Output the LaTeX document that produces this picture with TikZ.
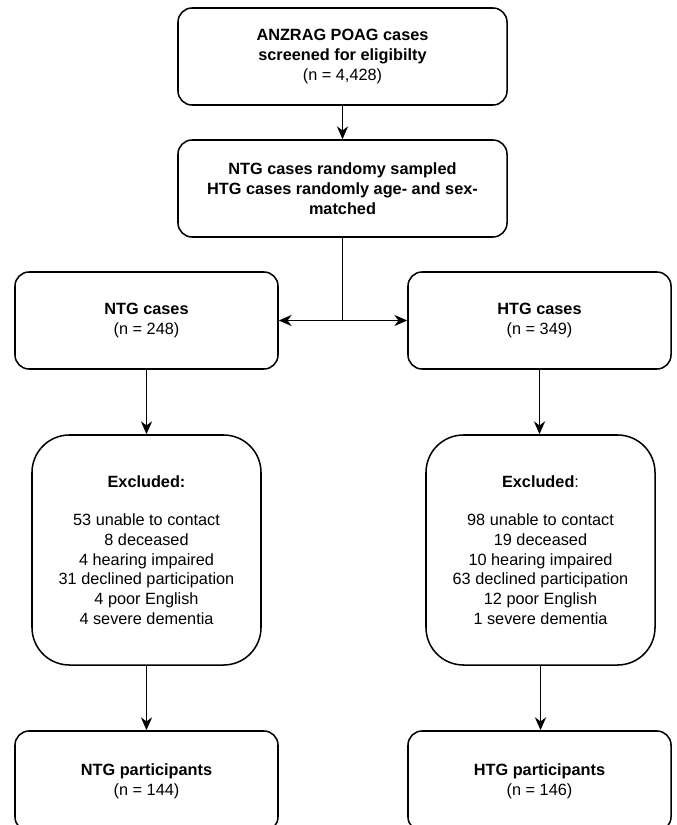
\documentclass[tikz,border=0pt]{standalone}
\usepackage{fontspec}
\setmainfont{Liberation Sans}
\usetikzlibrary{arrows.meta}

\begin{document}
\begin{tikzpicture}[x=0.03cm,y=-0.03cm,
		box/.style={draw,line width=1.3pt,rounded corners=12pt,align=center,inner sep=0pt,font=\fontsize{13.9}{16.8}\selectfont},
		widebox/.style={box,minimum width=9.87cm,minimum height=2.91cm},
		armbox/.style={box,minimum width=7.89cm,minimum height=2.91cm},
		exclbox/.style={box,rounded corners=32pt,minimum width=6.87cm,minimum height=6.9cm},
		link/.style={line width=1.3pt,-{Stealth[length=11pt,width=9.5pt,inset=3.5pt]}}]
	\useasboundingbox (0,0) rectangle (676,825);
	\clip (0,0) rectangle (676,825);
	
	\node[widebox] (screened) at (342.5,56.5) {\textbf{ANZRAG POAG cases}\\\textbf{screened for eligibilty}\\(n = 4,428)};
	\node[widebox] (sampled) at (342.5,188.5) {\textbf{NTG cases randomy sampled}\\\textbf{HTG cases randomly age- and sex-}\\\textbf{matched}};
	
	\node[armbox] (ntg) at (146.5,320.5) {\textbf{NTG cases}\\(n = 248)};
	\node[armbox] (htg) at (539.5,320.5) {\textbf{HTG cases}\\(n = 349)};
	
	\node[exclbox] (ntgexcl) at (146.5,550) {\textbf{Excluded:}\\[16pt]53 unable to contact\\8 deceased\\4 hearing impaired\\31 declined participation\\4 poor English\\4 severe dementia};
	\node[exclbox] (htgexcl) at (540.5,550) {\textbf{Excluded}:\\[16pt]98 unable to contact\\19 deceased\\10 hearing impaired\\63 declined participation\\12 poor English\\1 severe dementia};
	
	\node[armbox,minimum height=3cm] (ntgpart) at (146.5,781) {\textbf{NTG participants}\\(n = 144)};
	\node[armbox,minimum height=3cm] (htgpart) at (539.5,781) {\textbf{HTG participants}\\(n = 146)};
	
	\coordinate (split) at (342.5,320.5);
	
	\draw[link] (screened) -- (sampled);
	\draw[line width=1.3pt] (sampled.south) -- (split);
	\draw[link] (split) -- (ntg.east);
	\draw[link] (split) -- (htg.west);
	\draw[link] (ntg) -- (ntgexcl);
	\draw[link] (htg.south) -- (htg.south |- htgexcl.north);
	\draw[link] (ntgexcl) -- (ntgpart);
	\draw[link] (htgexcl.south) -- (htgexcl.south |- htgpart.north);
\end{tikzpicture}
\end{document}
